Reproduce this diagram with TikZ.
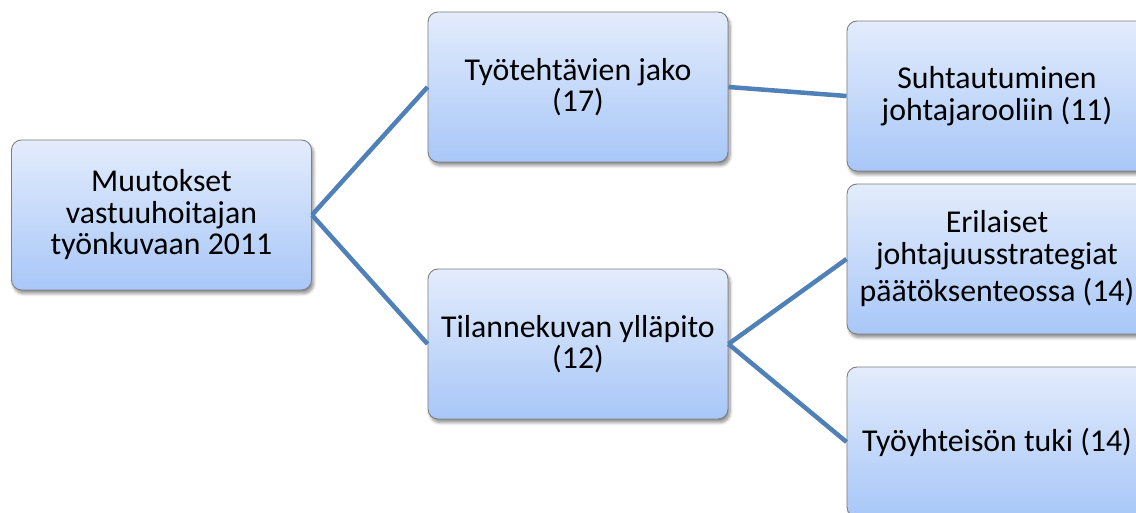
\documentclass[tikz,border=0pt]{standalone}
\usepackage{fontspec}
\setmainfont{Carlito}
\usetikzlibrary{shadows.blur}
\definecolor{boxtop}{HTML}{E3ECFC}
\definecolor{boxbottom}{HTML}{A8C7F8}
\definecolor{boxedge}{HTML}{7F7F7F}
\definecolor{linkblue}{HTML}{5080B8}
\tikzset{
  topic/.style={
    draw=boxedge, line width=0.9pt, rounded corners=10pt,
    top color=boxtop, bottom color=boxbottom,
    minimum width=300pt, minimum height=150pt, inner sep=0pt,
    align=center, text=black,
    font=\fontsize{31.8}{31.5}\selectfont,
    blur shadow={shadow xshift=2pt, shadow yshift=-3.5pt,
                 shadow blur steps=6, shadow blur radius=3pt, shadow opacity=45}
  },
  link/.style={draw=linkblue, line width=4.5pt}
}
\begin{document}
\begin{tikzpicture}[x=1pt, y=1pt]
  \useasboundingbox (0,0) rectangle (1136,-513);

  % boxes of the tree, root on the left
  \node[topic] (a) at (161.5,-215) {Muutokset\\vastuuhoitajan\\työnkuvaan 2011};
  \node[topic] (b) at (578,-87) {Työtehtävien jako\\(17)};
  \node[topic] (c) at (578,-344) {Tilannekuvan ylläpito\\(12)};
  \node[topic] (d) at (997,-96) {Suhtautuminen\\johtajarooliin (11)};
  \node[topic] (e) at (997,-259) {Erilaiset\\johtajuusstrategiat\\[6pt]päätöksenteossa (14)};
  \node[topic] (f) at (997,-442) {Työyhteisön tuki (14)};

  % connectors between the boxes
  \draw[link] (a.east) -- (b.west);
  \draw[link] (a.east) -- (c.west);
  \draw[link] (b.east) -- (d.west);
  \draw[link] (c.east) -- (e.west);
  \draw[link] (c.east) -- (f.west);
\end{tikzpicture}
\end{document}
